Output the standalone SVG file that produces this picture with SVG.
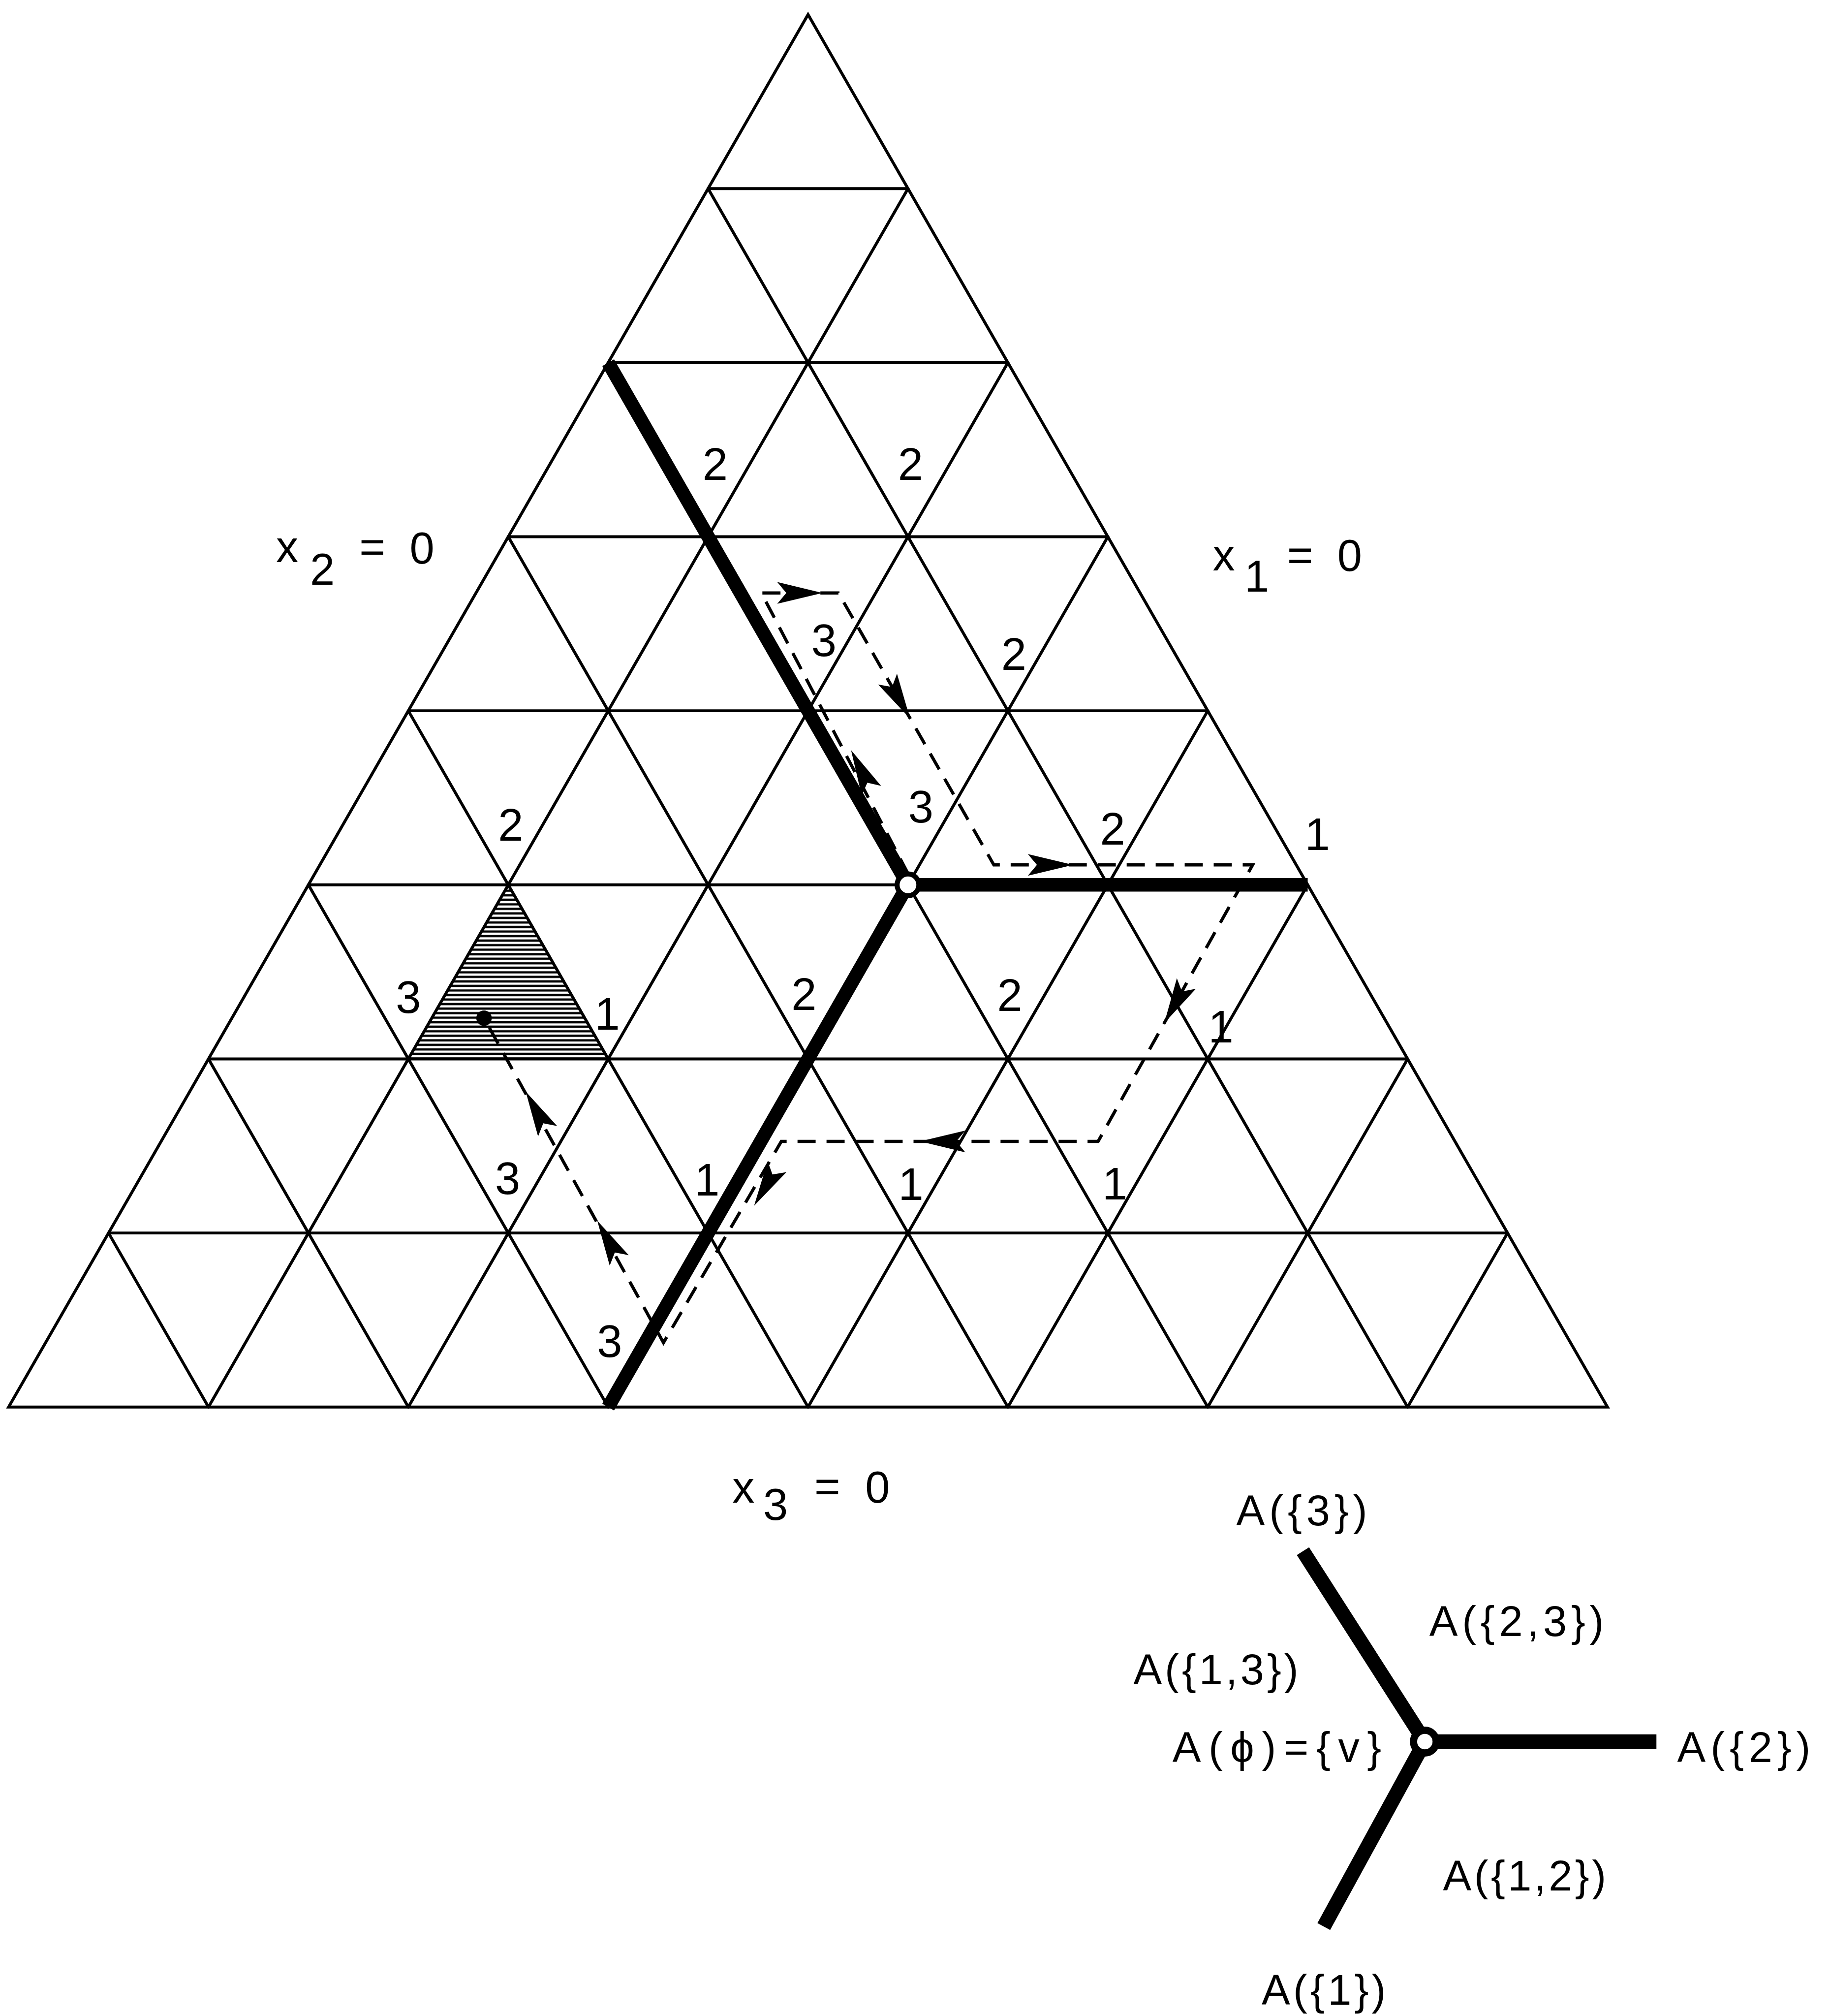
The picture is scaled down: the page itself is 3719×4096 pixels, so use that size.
<svg xmlns="http://www.w3.org/2000/svg" xmlns:xlink="http://www.w3.org/1999/xlink" width="3719" height="4096" viewBox="0 0 3719 4096">
<style>
.thin{fill:none;stroke:#000;stroke-width:6.5;stroke-linecap:round}
.thick{fill:none;stroke:#000;stroke-width:30;stroke-linecap:butt;stroke-linejoin:miter}
.dash{fill:none;stroke:#000;stroke-width:7;stroke-dasharray:40 24}
.lbl{font-family:"Liberation Sans",Arial,sans-serif;font-size:100px;fill:#000;text-anchor:middle}
.ax{font-family:"Liberation Sans",Arial,sans-serif;font-size:98px;fill:#000}
.ins{font-family:"Liberation Sans","DejaVu Sans",Arial,sans-serif;font-size:94px;fill:#000}
</style>
<defs>
<path id="ah" d="M0,0 L-100,-24 L-80,0 L-100,24 Z" fill="#000"/>
<pattern id="hatch" patternUnits="userSpaceOnUse" width="20" height="10">
<rect width="20" height="10" fill="#fff"/>
<line x1="0" y1="5" x2="20" y2="5" stroke="#000" stroke-width="5"/>
</pattern>
</defs>
<rect width="3719" height="4096" fill="#fff"/>
<g transform="scale(0.921)">
<g id="shaded-simplex">
<polygon points="1121.5,1952 901,2336 1342,2336" fill="url(#hatch)"/>
</g>
<g id="grid">
<polygon class="thin" points="1783,32 19,3104 3547,3104" style="stroke-linejoin:miter"/>
<path class="thin" d="M1562.5,416H2003.5 M1342,800H2224 M1121.5,1184H2444.5 M901,1568H2665 M680.5,1952H2885.5 M460,2336H3106 M239.5,2720H3326.5
M2003.5,416L460,3104 M2224,800L901,3104 M2444.5,1184L1342,3104 M2665,1568L1783,3104 M2885.5,1952L2224,3104 M3106,2336L2665,3104 M3326.5,2720L3106,3104
M1562.5,416L3106,3104 M1342,800L2665,3104 M1121.5,1184L2224,3104 M901,1568L1783,3104 M680.5,1952L1342,3104 M460,2336L901,3104 M239.5,2720L460,3104"/>
</g>
<g id="regions">
<path class="thick" d="M1342,800 L2003.5,1952 L1342,3104 M2003.5,1952 L2885.5,1952"/>
</g>
<g id="connectors">
<path class="dash" d="M2005,1930 L1680,1308 L1850,1308 L2193,1908 L2764,1908 L2423,2518 L1724,2518 L1464,2962 L1068,2246"/>
<use xlink:href="#ah" transform="translate(1815,1308)"/>
<use xlink:href="#ah" transform="translate(2008,1585) rotate(60.3)"/>
<use xlink:href="#ah" transform="translate(1878,1655) rotate(-116.6)"/>
<use xlink:href="#ah" transform="translate(2368,1908)"/>
<use xlink:href="#ah" transform="translate(2569,2257) rotate(119.2)"/>
<use xlink:href="#ah" transform="translate(2030,2518) rotate(180)"/>
<use xlink:href="#ah" transform="translate(1664,2660) rotate(120.4)"/>
<use xlink:href="#ah" transform="translate(1160,2408) rotate(-118.9)"/>
<use xlink:href="#ah" transform="translate(1318,2693) rotate(-118.9)"/>
</g>
<g id="vertex-v">
<circle cx="2003.5" cy="1952" r="24" fill="#fff" stroke="#000" stroke-width="11"/>
</g>
<g id="start-point">
<circle cx="1068" cy="2246" r="17" fill="#000"/>
</g>
<g id="labels">
<text class="lbl" x="1578" y="1059">2</text>
<text class="lbl" x="2009" y="1059">2</text>
<text class="lbl" x="1818" y="1447">3</text>
<text class="lbl" x="2237" y="1478">2</text>
<text class="lbl" x="2032" y="1814">3</text>
<text class="lbl" x="2455" y="1863">2</text>
<text class="lbl" x="2907" y="1875">1</text>
<text class="lbl" x="1127" y="1855">2</text>
<text class="lbl" x="901" y="2235">3</text>
<text class="lbl" x="1340" y="2271">1</text>
<text class="lbl" x="1774" y="2228">2</text>
<text class="lbl" x="2228" y="2230">2</text>
<text class="lbl" x="2694" y="2300">1</text>
<text class="lbl" x="1120" y="2634">3</text>
<text class="lbl" x="1560" y="2637">1</text>
<text class="lbl" x="2010" y="2647">1</text>
<text class="lbl" x="2460" y="2646">1</text>
<text class="lbl" x="1345" y="2994">3</text>
</g>
<g id="axis-x2">
<text class="ax" x="609" y="1240">x</text><text class="ax" x="684" y="1290">2</text><text class="ax" x="793" y="1240">=</text><text class="ax" x="904" y="1243">0</text>
</g>
<g id="axis-x1">
<text class="ax" x="2676" y="1258">x</text><text class="ax" x="2746" y="1305">1</text><text class="ax" x="2840" y="1258">=</text><text class="ax" x="2951" y="1260">0</text>
</g>
<g id="axis-x3">
<text class="ax" x="1616" y="3315">x</text><text class="ax" x="1684" y="3353">3</text><text class="ax" x="1797" y="3313">=</text><text class="ax" x="1909" y="3315">0</text>
</g>
<g id="inset">
<path d="M3144,3842 L2875,3422 M3144,3842 L3655,3842 M3144,3842 L2921,4250" fill="none" stroke="#000" stroke-width="32"/>
<circle cx="3144" cy="3842" r="25" fill="#fff" stroke="#000" stroke-width="16"/>
<text class="ins" x="2728" y="3365" textLength="289" lengthAdjust="spacing">A({3})</text>
<text class="ins" x="3154" y="3609" textLength="385" lengthAdjust="spacing">A({2,3})</text>
<text class="ins" x="2501" y="3716" textLength="364" lengthAdjust="spacing">A({1,3})</text>
<text class="ins" x="2587" y="3887" textLength="461" lengthAdjust="spacing">A(ϕ)={v}</text>
<text class="ins" x="3701" y="3887" textLength="294" lengthAdjust="spacing">A({2})</text>
<text class="ins" x="3184" y="4170" textLength="360" lengthAdjust="spacing">A({1,2})</text>
<text class="ins" x="2784" y="4422" textLength="274" lengthAdjust="spacing">A({1})</text>
</g>
</g>
</svg>
